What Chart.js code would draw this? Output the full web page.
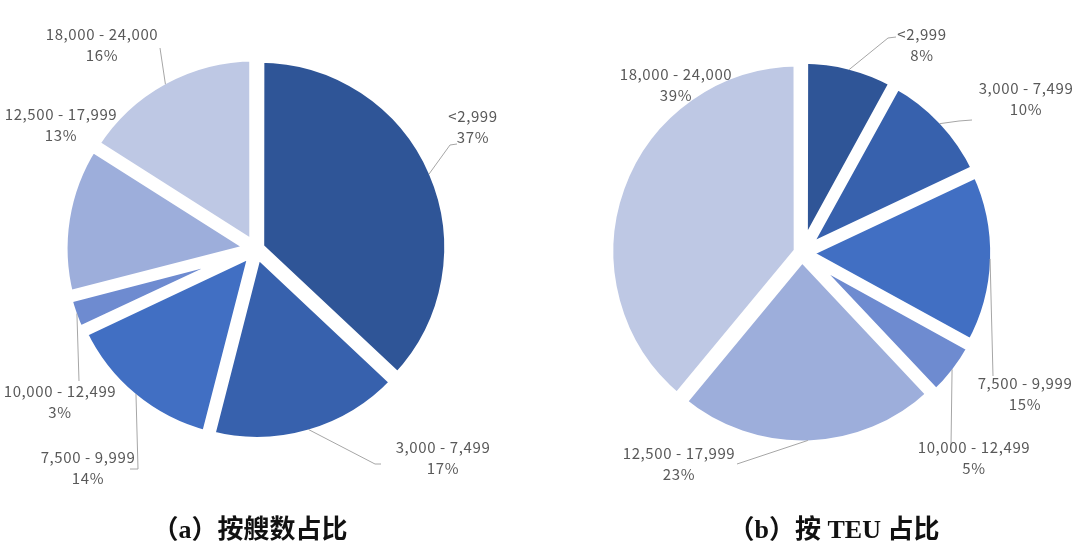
<!DOCTYPE html>
<html>
<head>
<meta charset="utf-8">
<script src="https://cdn.jsdelivr.net/npm/chart.js@4/dist/chart.umd.min.js"></script>
<style>
  html, body { margin: 0; padding: 0; background: #ffffff; }
  #wrap { position: relative; width: 1080px; height: 551px; overflow: hidden; }
  .pane { position: absolute; top: 0; width: 540px; height: 551px; }
  .title { position: absolute; top: 508px; font: bold 26px "Liberation Serif", "Noto Sans CJK SC", serif; color: #111; white-space: nowrap; transform: translateX(-50%); }
</style>
</head>
<body>
<div id="wrap">
  <div class="pane" style="left:0"><canvas id="c1" width="540" height="551"></canvas></div>
  <div class="pane" style="left:540px"><canvas id="c2" width="540" height="551"></canvas></div>
  <div class="title" id="t1" style="left:250px"></div>
  <div class="title" id="t2" style="left:834px"></div>
</div>
<script>
// ---- data ----
const categories = ['<2,999', '3,000 - 7,499', '7,500 - 9,999', '10,000 - 12,499', '12,500 - 17,999', '18,000 - 24,000'];
const shipShare = [37, 17, 14, 3, 13, 16];   // % by number of ships
const teuShare  = [8, 10, 15, 5, 23, 39];    // % by TEU
const titles = ['（a）按艘数占比', '（b）按 TEU 占比'];

// ---- styles / layout ----
const sliceColors = ['#2F5597', '#3761AD', '#416FC3', '#6E8BD0', '#9DAEDB', '#BEC8E4'];
const BORDER = 10, OFFSET = 14, RADIUS = 189;

// label layout per chart (local canvas px): text centre, and leader-line points after the arc anchor
const layoutA = [
  {tx: 473, ty: 116, line: [[450, 145], [457, 144]]},
  {tx: 443, ty: 447, line: [[375, 464], [381, 464]]},
  {tx: 88,  ty: 457, line: [[138, 469], [130, 469]]},
  {tx: 60,  ty: 391, line: [[79, 381]]},
  {tx: 61,  ty: 114, line: null},
  {tx: 102, ty: 34,  line: [[160, 48]]}
];
const layoutB = [
  {tx: 382, ty: 34,  line: [[348, 38], [356, 37]]},
  {tx: 486, ty: 88,  line: [[419, 121], [432, 120]]},
  {tx: 485, ty: 383, line: [[453, 376]]},
  {tx: 434, ty: 447, line: [[411, 446]]},
  {tx: 139, ty: 453, line: [[197, 464]]},
  {tx: 136, ty: 74,  line: null}
];

const labelPlugin = {
  id: 'outLabels',
  afterDatasetsDraw(chart, args, opts) {
    const ctx = chart.ctx;
    const meta = chart.getDatasetMeta(0);
    const data = chart.data.datasets[0].data;
    ctx.save();
    meta.data.forEach((arc, i) => {
      const lay = opts.layout[i];
      const p = arc.getProps(['x', 'y', 'startAngle', 'endAngle', 'outerRadius', 'circumference']);
      const mid = (p.startAngle + p.endAngle) / 2;
      const off = OFFSET / 4;
      const fix = 1 - Math.sin(Math.min(Math.PI, p.circumference || 0));
      const shift = off + off * fix;
      const r = p.outerRadius - BORDER / 2 + shift;
      const ax = p.x + Math.cos(mid) * r;
      const ay = p.y + Math.sin(mid) * r;
      if (lay.line) {
        ctx.beginPath();
        ctx.strokeStyle = '#A6A6A6';
        ctx.lineWidth = 1;
        ctx.moveTo(ax, ay);
        lay.line.forEach(pt => ctx.lineTo(pt[0], pt[1]));
        ctx.stroke();
      }
      ctx.fillStyle = '#595959';
      ctx.font = '15px "Noto Sans CJK SC", "DejaVu Sans", sans-serif';
      ctx.letterSpacing = '0.6px';
      ctx.textAlign = 'center';
      ctx.textBaseline = 'middle';
      ctx.fillText(chart.data.labels[i], lay.tx, lay.ty);
      ctx.fillText(data[i] + '%', lay.tx, lay.ty + 21);
    });
    ctx.restore();
  }
};

function makePie(id, values, layout, pad) {
  return new Chart(document.getElementById(id), {
    type: 'pie',
    data: {
      labels: categories,
      datasets: [{
        data: values,
        backgroundColor: sliceColors,
        borderColor: '#ffffff',
        borderWidth: BORDER,
        borderJoinStyle: 'miter',
        offset: OFFSET
      }]
    },
    options: {
      responsive: false,
      animation: false,
      radius: RADIUS,
      layout: { padding: pad },
      plugins: {
        legend: { display: false },
        tooltip: { enabled: false },
        title: { display: false },
        outLabels: { layout: layout }
      }
    },
    plugins: [labelPlugin]
  });
}

makePie('c1', shipShare, layoutA, {left: 67, top: 60, right: 95, bottom: 113});
makePie('c2', teuShare, layoutB, {left: 73, top: 64, right: 89, bottom: 109});
document.getElementById('t1').textContent = titles[0];
document.getElementById('t2').textContent = titles[1];
</script>
</body>
</html>
